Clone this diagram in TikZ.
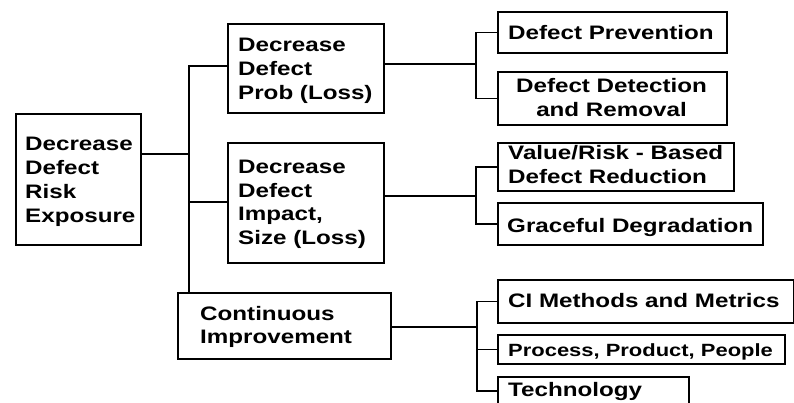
\documentclass[tikz,border=0pt]{standalone}
\usepackage{fontspec}
\setmainfont{Liberation Sans}[FakeStretch=1.24]
\begin{document}
\begin{tikzpicture}[x=1pt,y=-1pt,
  frame/.style={draw, line width=1.5pt, anchor=north west, inner sep=0pt},
  txt/.style={anchor=base west, inner sep=0pt, align=left,
    font=\bfseries\fontsize{19.5}{23.8}\selectfont},
  smalltxt/.style={txt, font=\bfseries\fontsize{17.7}{21}\selectfont},
  link/.style={line width=1.5pt}]
\useasboundingbox (0,0) rectangle (794,402);
\clip (0,0) rectangle (794,402);

% frames
\node[frame, minimum width=125, minimum height=131] (root)   at (15,113)  {};
\node[frame, minimum width=156, minimum height=89]  (prob)   at (227,23)  {};
\node[frame, minimum width=156, minimum height=120] (impact) at (227,142) {};
\node[frame, minimum width=213, minimum height=66]  (cont)   at (177,292) {};
\node[frame, minimum width=229, minimum height=41]  (prev)   at (497,11)  {};
\node[frame, minimum width=229, minimum height=53]  (det)    at (497,71)  {};
\node[frame, minimum width=236, minimum height=48]  (val)    at (497,142) {};
\node[frame, minimum width=265, minimum height=42]  (grace)  at (497,202) {};
\node[frame, minimum width=296, minimum height=43]  (ci)     at (497,279) {};
\node[frame, minimum width=287, minimum height=29]  (proc)   at (497,334) {};
\node[frame, minimum width=191, minimum height=28]  (tech)   at (497,376) {};

% labels (the base of a multi-line label is its last line)
\node[txt] (root-t)   at (25,222.1)  {Decrease\\Defect\\Risk\\Exposure};
\node[txt] (prob-t)   at (238,99.3)  {Decrease\\Defect\\Prob (Loss)};
\node[txt] (impact-t) at (238,244.6) {Decrease\\Defect\\Impact,\\Size (Loss)};
\node[txt] (cont-t)   at (200,343.8) {Continuous\\Improvement};
\node[txt] (prev-t)   at (508,39)    {Defect Prevention};
\node[txt, anchor=base, align=center] (det-t) at (611.5,116.5) {Defect Detection\\and Removal};
\node[txt] (val-t)    at (508,183.5) {Value/Risk - Based\\Defect Reduction};
\node[txt] (grace-t)  at (507,232.3) {Graceful Degradation};
\node[txt] (ci-t)     at (508,307.3) {CI Methods and Metrics};
\node[smalltxt] (proc-t) at (508,356.7) {Process, Product, People};
\node[txt] (tech-t)   at (508,396.5) {Technology};

% junction points
\coordinate (j0)  at (189,154);
\coordinate (ttop) at (189,66);
\coordinate (timp) at (189,202);
\coordinate (b1) at (476,64);
\coordinate (b2) at (476,196);
\coordinate (b3) at (477,327);

% trunk from the root
\draw[link] (root.east |- j0) -- (j0);
\draw[link] (ttop -| prob.west) -- (ttop) -- (ttop |- cont.north);
\draw[link] (timp) -- (timp -| impact.west);

% second-level brackets
\draw[link] (prob.east |- b1) -- (b1);
\draw[link] (prev.west) -| (b1) |- (det.west);
\draw[link] (impact.east |- b2) -- (b2);
\draw[link] (val.west) -| (b2) |- (grace.west);
\draw[link] (cont.east |- b3) -- (b3);
\draw[link] (ci.west) -| (b3) |- (tech.west);
\draw[link] (b3 |- proc.west) -- (proc.west);
\end{tikzpicture}
\end{document}
